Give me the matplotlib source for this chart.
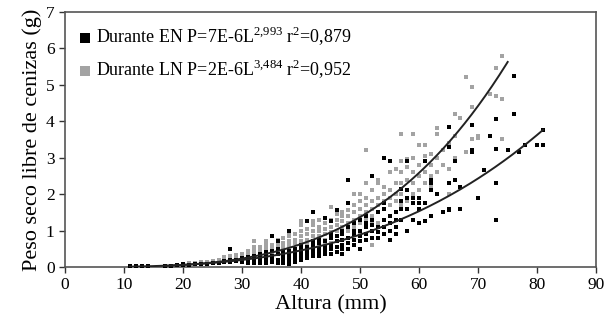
import matplotlib
matplotlib.use("Agg")
import matplotlib.pyplot as plt
import numpy as np

plt.rcParams['font.family'] = ['Liberation Serif', 'DejaVu Serif']
plt.rcParams['mathtext.fontset'] = 'custom'
plt.rcParams['mathtext.rm'] = 'Liberation Serif'

# Durante EN (black) - altura (mm), peso (g)
en_x = [11, 12, 13, 14, 17, 18, 19, 20, 20, 21, 22, 23, 24, 25, 26, 27, 27,
        28, 28, 28, 29, 29, 30, 30, 30, 31, 31, 31, 32, 32, 32,
        33, 33, 33, 33, 34, 34, 34, 34, 35, 35, 35, 35, 35,
        36, 36, 36, 36, 36, 37, 37, 37, 37, 37, 38, 38, 38, 38, 38, 38,
        39, 39, 39, 39, 39, 40, 40, 40, 40, 40, 40, 41, 41, 41, 41, 41,
        42, 42, 42, 42, 42, 42, 42, 43, 43, 43, 43, 43, 44, 44, 44, 44, 44,
        45, 45, 45, 45, 45, 45, 46, 46, 46, 46, 46, 47, 47, 47, 47, 47, 47,
        48, 48, 48, 48, 48, 48, 49, 49, 49, 49, 49, 50, 50, 50, 50, 50,
        51, 51, 51, 51, 51, 52, 52, 52, 52, 52, 53, 53, 53, 53,
        54, 54, 54, 54, 54, 54, 55, 55, 55, 55, 55, 56, 56, 56, 56,
        57, 57, 57, 57, 58, 58, 58, 58, 58, 59, 59, 59, 60, 60, 60, 60,
        61, 61, 61, 62, 62, 62, 62, 63, 64, 65, 65, 65, 65, 65, 66, 66,
        67, 67, 69, 69, 69, 70, 71, 72, 73, 73, 73, 73, 75, 76, 76, 77, 78,
        80, 81, 81]
en_y = [0.02, 0.02, 0.02, 0.02, 0.04, 0.04, 0.05, 0.05, 0.07, 0.06, 0.07, 0.08, 0.09, 0.10, 0.12, 0.13, 0.16,
        0.50, 0.15, 0.20, 0.17, 0.20, 0.15, 0.22, 0.25, 0.10, 0.20, 0.28, 0.12, 0.20, 0.30,
        0.15, 0.25, 0.35, 0.10, 0.10, 0.20, 0.30, 0.40, 0.85, 0.15, 0.30, 0.45, 0.20,
        0.70, 0.10, 0.20, 0.35, 0.50, 0.10, 0.20, 0.30, 0.40, 0.15, 1.00, 0.08, 0.15, 0.25, 0.35, 0.45,
        0.15, 0.25, 0.35, 0.50, 0.20, 0.20, 0.30, 0.40, 0.50, 0.60, 0.25, 1.25, 0.25, 0.35, 0.45, 0.55,
        1.50, 0.30, 0.40, 0.50, 0.60, 0.70, 0.35, 0.30, 0.40, 0.50, 0.65, 0.75, 1.35, 0.35, 0.45, 0.55, 0.70,
        1.25, 0.35, 0.50, 0.60, 0.80, 0.90, 1.55, 0.40, 0.55, 0.70, 0.85, 0.35, 0.50, 0.60, 0.75, 0.90, 1.00,
        2.40, 1.75, 0.50, 0.65, 0.80, 1.10, 0.60, 0.75, 0.90, 1.00, 1.20, 0.50, 0.70, 0.85, 1.00, 1.30,
        1.40, 0.75, 0.90, 1.10, 1.20, 2.50, 0.80, 1.00, 1.15, 1.30, 0.80, 0.95, 1.10, 1.50,
        3.00, 0.90, 1.10, 1.30, 1.60, 1.75, 2.90, 0.75, 1.00, 1.20, 1.40, 0.90, 1.10, 1.30, 1.50,
        2.15, 1.30, 1.60, 1.80, 2.90, 1.00, 1.60, 1.90, 2.10, 1.30, 1.75, 1.90, 1.20, 1.60, 1.75, 1.90,
        1.25, 1.75, 2.90, 2.40, 2.10, 1.40, 2.30, 2.00, 1.50, 3.85, 3.30, 1.60, 2.30, 1.55, 2.90, 2.40,
        1.60, 2.20, 3.90, 3.20, 3.15, 1.90, 2.65, 3.60, 4.05, 3.25, 2.30, 1.30, 3.20, 5.25, 4.20, 3.15, 3.35,
        3.35, 3.35, 3.75]

# Durante LN (gray)
ln_x = [17, 18, 19, 20, 20, 21, 21, 22, 22, 23, 23, 24, 24, 25, 25, 26, 26,
        27, 27, 27, 28, 28, 28, 29, 29, 29, 30, 30, 30, 30, 31, 31, 31, 31,
        32, 32, 32, 32, 32, 33, 33, 33, 33, 34, 34, 34, 34, 34, 35, 35, 35, 35,
        36, 36, 36, 36, 36, 37, 37, 37, 37, 37, 38, 38, 38, 38, 38, 38,
        39, 39, 39, 39, 39, 40, 40, 40, 40, 40, 40, 40, 41, 41, 41, 41, 41,
        42, 42, 42, 42, 42, 42, 43, 43, 43, 43, 43, 43, 44, 44, 44, 44, 44,
        45, 45, 45, 45, 45, 45, 46, 46, 46, 46, 46, 46, 47, 47, 47, 47, 47, 47,
        48, 48, 48, 48, 48, 49, 49, 49, 49, 49, 49, 50, 50, 50, 50, 50, 50,
        51, 51, 51, 51, 51, 51, 51, 52, 52, 52, 52, 52, 52, 53, 53, 53, 53, 53, 53,
        54, 54, 54, 54, 54, 55, 55, 55, 55, 55, 56, 56, 56, 56, 56,
        57, 57, 57, 57, 57, 57, 58, 58, 58, 58, 58, 59, 59, 59, 59, 59,
        60, 60, 60, 60, 61, 61, 61, 61, 62, 62, 62, 62, 63, 63, 63, 63,
        64, 64, 65, 65, 65, 65, 66, 66, 66, 67, 68, 68, 69, 69, 69, 70, 70,
        72, 73, 73, 74, 74, 74]
ln_y = [0.03, 0.04, 0.05, 0.06, 0.08, 0.07, 0.10, 0.08, 0.12, 0.10, 0.14, 0.10, 0.15, 0.12, 0.17, 0.13, 0.20,
        0.15, 0.20, 0.28, 0.18, 0.25, 0.30, 0.20, 0.28, 0.32, 0.20, 0.30, 0.35, 0.25, 0.20, 0.30, 0.40, 0.45,
        0.25, 0.35, 0.45, 0.55, 0.70, 0.25, 0.35, 0.45, 0.55, 0.30, 0.40, 0.50, 0.60, 0.70, 0.30, 0.40, 0.50, 0.60,
        0.35, 0.45, 0.55, 0.65, 0.75, 0.30, 0.45, 0.55, 0.65, 0.80, 0.40, 0.50, 0.60, 0.70, 0.85, 0.95,
        0.40, 0.50, 0.65, 0.75, 0.90, 0.45, 0.60, 0.70, 0.85, 1.00, 1.15, 1.25, 0.50, 0.65, 0.75, 0.90, 1.05,
        0.55, 0.70, 0.85, 1.00, 1.15, 1.25, 0.55, 0.70, 0.85, 1.00, 1.10, 1.30, 0.60, 0.75, 0.90, 1.05, 1.20,
        0.65, 0.80, 0.95, 1.10, 1.30, 1.65, 0.70, 0.85, 1.00, 1.15, 1.30, 1.45, 0.75, 0.90, 1.10, 1.25, 1.40, 1.50,
        0.80, 1.00, 1.20, 1.40, 1.55, 0.90, 1.10, 1.30, 1.50, 1.70, 2.00, 0.95, 1.20, 1.40, 1.60, 1.80, 2.00,
        1.10, 1.30, 1.50, 1.70, 1.90, 2.30, 3.20, 0.60, 1.20, 1.40, 1.60, 1.80, 2.10, 1.20, 1.50, 1.70, 1.90, 2.30, 2.40,
        1.30, 1.60, 1.80, 2.00, 2.20, 1.40, 1.70, 1.90, 2.10, 2.60, 1.50, 1.80, 2.00, 2.30, 2.70,
        1.70, 2.00, 2.30, 2.60, 2.90, 3.65, 1.80, 2.10, 2.40, 2.75, 2.95, 2.00, 2.30, 2.60, 3.00, 3.65,
        2.10, 2.50, 2.80, 3.35, 2.30, 2.60, 3.05, 3.35, 2.20, 2.50, 2.80, 3.10, 2.60, 3.00, 3.65, 3.80,
        2.80, 3.20, 2.00, 2.70, 3.30, 3.40, 3.00, 3.60, 4.20, 4.10, 3.15, 5.20, 3.50, 4.40, 4.95, 3.55, 3.60,
        4.75, 4.70, 5.45, 5.80, 4.60, 3.50]

# power fits P = a * L^b
en_a, en_b = 7.3e-6, 2.993
ln_a, ln_b = 1.65e-6, 3.484
en_range = (11, 81)
ln_range = (17, 75)

fig = plt.figure(figsize=(6.14, 3.30), dpi=100)
ax = fig.add_axes([0.106, 0.191, 0.865, 0.773])

ax.scatter(ln_x, ln_y, marker='s', s=8, color='#a3a3a3', linewidths=0,
           label='Durante LN P=2E-6L$^{\\mathrm{3{,}484}}$ r$^{\\mathrm{2}}$=0,952', zorder=2)
ax.scatter(en_x, en_y, marker='s', s=8, color='black', linewidths=0,
           label='Durante EN P=7E-6L$^{\\mathrm{2{,}993}}$ r$^{\\mathrm{2}}$=0,879', zorder=3)

xl = np.linspace(*ln_range, 200)
ax.plot(xl, ln_a * xl ** ln_b, color='#222222', lw=1.4, zorder=4)
xe = np.linspace(*en_range, 200)
ax.plot(xe, en_a * xe ** en_b, color='#222222', lw=1.4, zorder=4)

ax.set_xlim(0, 90)
ax.set_ylim(0, 7)
ax.set_xticks(range(0, 91, 10))
ax.set_yticks(range(0, 8))
ax.tick_params(direction='out', length=4, width=1, labelsize=12.5, colors='#333333',
               labelcolor='black')
for s in ax.spines.values():
    s.set_color('#555555')
    s.set_linewidth(1.2)

ax.set_xlabel('Altura (mm)', fontsize=16, labelpad=1)
ax.set_ylabel('Peso seco libre de cenizas (g)', fontsize=16, labelpad=3)

h, l = ax.get_legend_handles_labels()
leg = ax.legend(h[::-1], l[::-1], loc='upper left', frameon=False, fontsize=13,
                markerscale=2.8, handletextpad=0.2, labelspacing=0.55,
                borderaxespad=0.3, handlelength=0.8)

fig.savefig('out.png', dpi=100)
